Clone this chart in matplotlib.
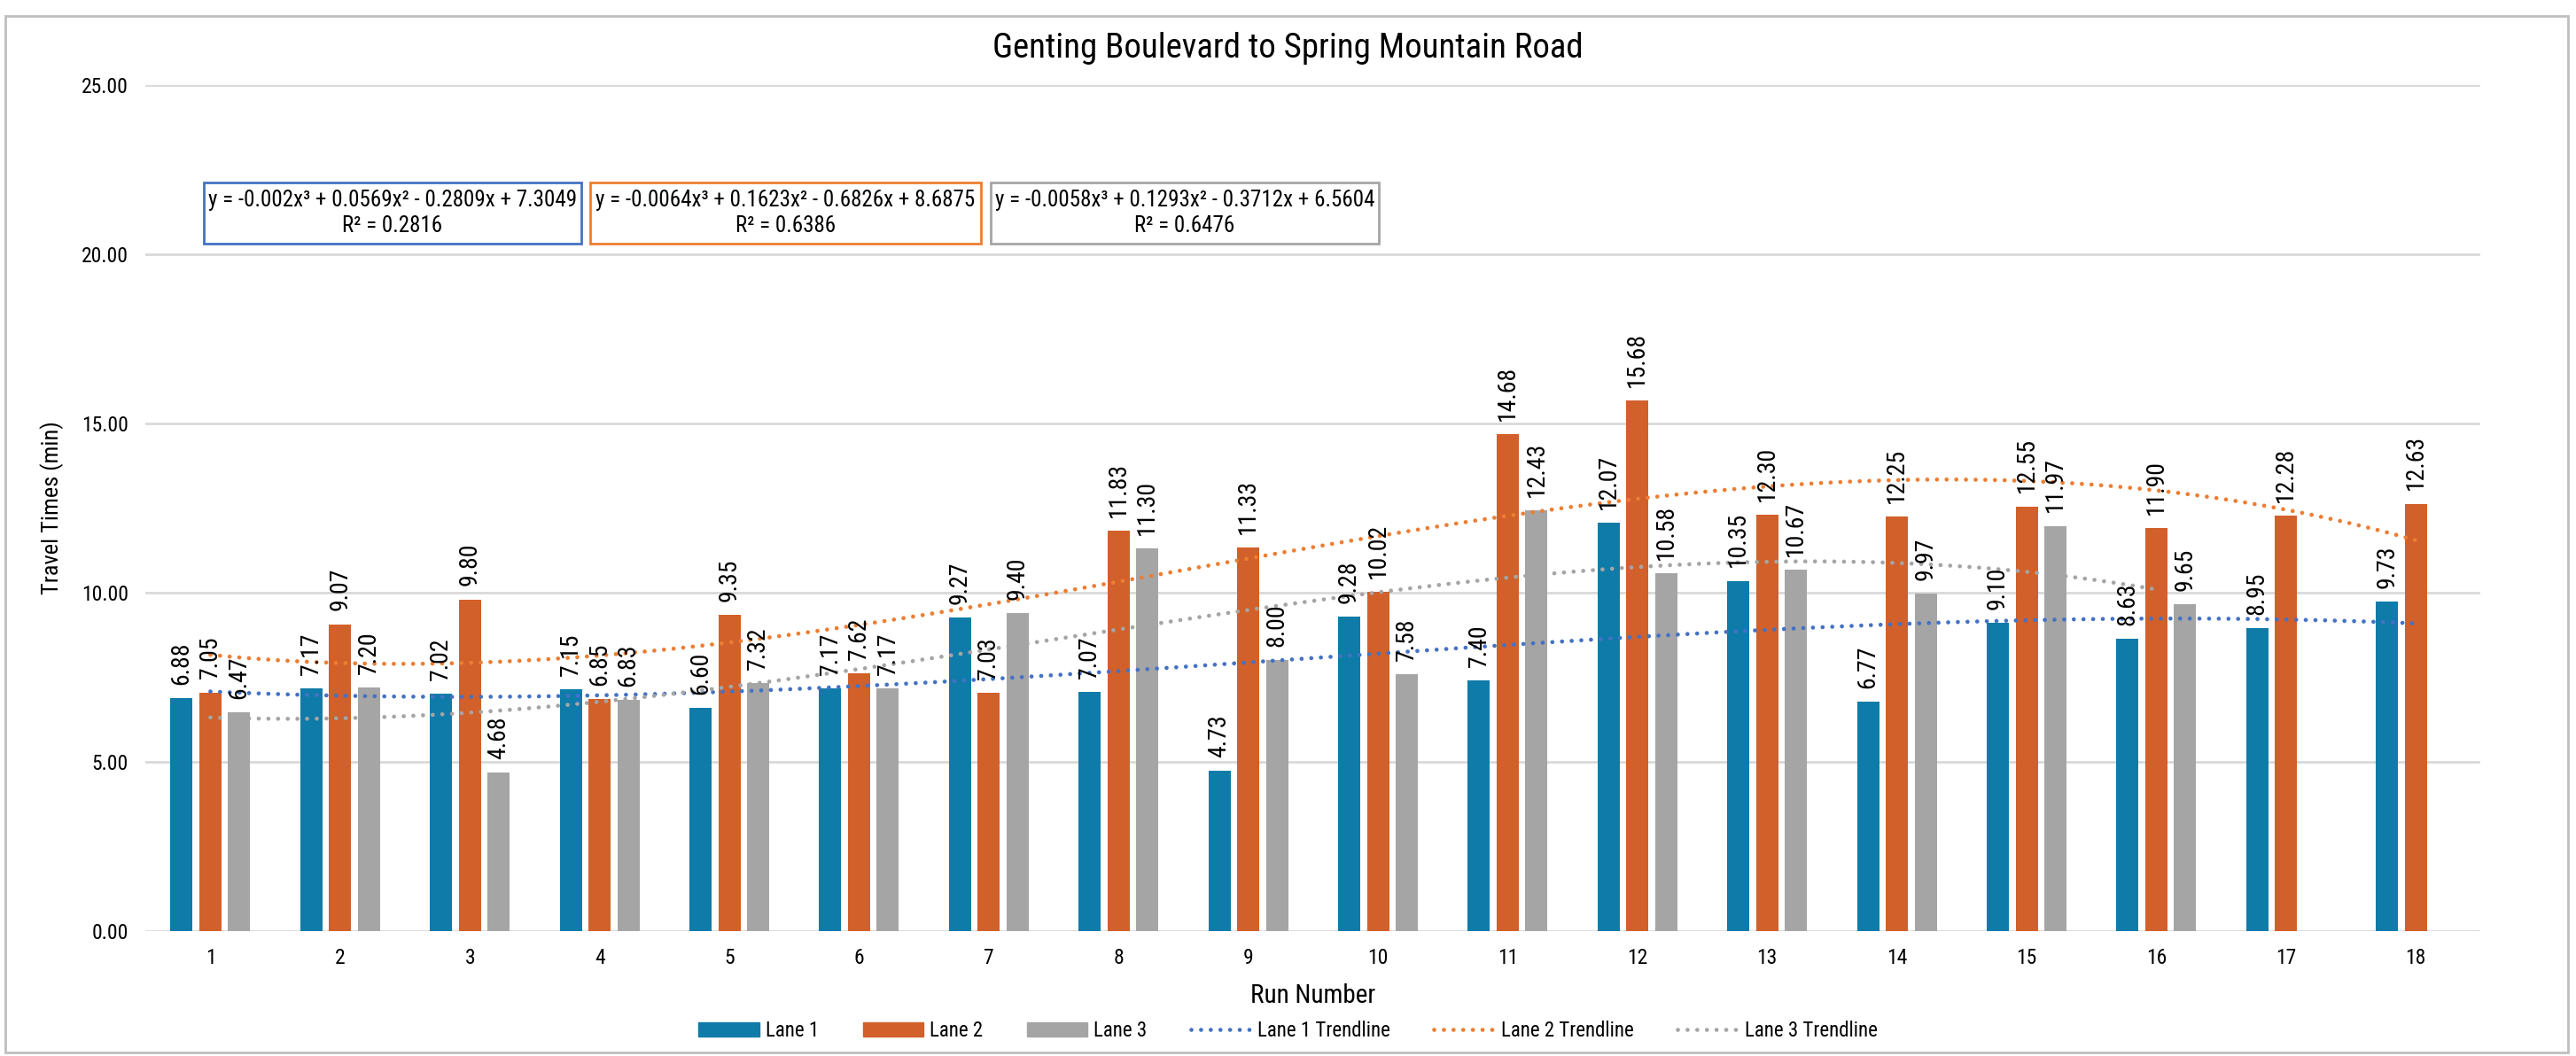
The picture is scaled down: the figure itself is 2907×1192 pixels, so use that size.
import numpy as np
import matplotlib
matplotlib.use("Agg")
import matplotlib.pyplot as plt
from matplotlib.patches import Patch, Rectangle
from matplotlib.lines import Line2D
from matplotlib import font_manager

runs = list(range(1, 19))
lane1 = [6.88, 7.17, 7.02, 7.15, 6.60, 7.17, 9.27, 7.07, 4.73, 9.28, 7.40, 12.07, 10.35, 6.77, 9.10, 8.63, 8.95, 9.73]
lane2 = [7.05, 9.07, 9.80, 6.85, 9.35, 7.62, 7.03, 11.83, 11.33, 10.02, 14.68, 15.68, 12.30, 12.25, 12.55, 11.90, 12.28, 12.63]
lane3 = [6.47, 7.20, 4.68, 6.83, 7.32, 7.17, 9.40, 11.30, 8.00, 7.58, 12.43, 10.58, 10.67, 9.97, 11.97, 9.65]
series_names = ["Lane 1", "Lane 2", "Lane 3"]
equations = [
    "y = -0.002x³ + 0.0569x² - 0.2809x + 7.3049\nR² = 0.2816",
    "y = -0.0064x³ + 0.1623x² - 0.6826x + 8.6875\nR² = 0.6386",
    "y = -0.0058x³ + 0.1293x² - 0.3712x + 6.5604\nR² = 0.6476",
]
yticks = [0, 5, 10, 15, 20, 25]

bar_colors = ["#0F7BA9", "#D2602A", "#A5A5A5"]
trend_colors = ["#4472C4", "#ED7D31", "#A5A5A5"]

avail = {f.name for f in font_manager.fontManager.ttflist}
narrow = [f for f in ["Liberation Sans Narrow", "Roboto Condensed", "Open Sans Condensed"] if f in avail]
NARROW = narrow + ["Liberation Sans", "DejaVu Sans"]
plt.rcParams['font.family'] = NARROW

W, H = 2907, 1192
fig = plt.figure(figsize=(W / 100, H / 100), dpi=100)
ax = fig.add_axes([0.0565, 0.1183, 0.9065, 0.8012])

offsets = [-0.222, 0.0, 0.222]
width = 0.171
DOT = (0, (0.01, 2.3))
for i, data in enumerate([lane1, lane2, lane3]):
    x = np.arange(1, len(data) + 1)
    ax.bar(x + offsets[i], data, width=width, color=bar_colors[i], zorder=2)
    for xi, v in zip(x + offsets[i], data):
        ax.annotate(f"{v:.2f}", (xi, v), xytext=(0, 11), textcoords="offset points",
                    rotation=90, ha="center", va="bottom", fontsize=20,
                    color="#000000", zorder=4)

for i, data in enumerate([lane1, lane2, lane3]):
    x = np.arange(1, len(data) + 1)
    coef = np.polyfit(x, data, 3)
    xs = np.linspace(1, len(data), 300)
    ax.plot(xs, np.polyval(coef, xs), color=trend_colors[i], lw=3.4,
            linestyle=DOT, dash_capstyle="round", zorder=3)

ax.set_xlim(0.5, 18.5)
ax.set_ylim(0, 25)
ax.set_yticks(yticks)
ax.set_yticklabels([f"{t:.2f}" for t in yticks])
ax.set_xticks(runs)
ax.set_xticklabels([str(r) for r in runs])
ax.tick_params(axis="both", length=0, labelsize=17, pad=14)
ax.grid(axis="y", color="#D9D9D9", lw=2)
ax.set_axisbelow(True)
for s in ax.spines.values():
    s.set_visible(False)
ax.set_ylabel("Travel Times (min)", fontsize=19, labelpad=14)
ax.set_xlabel("Run Number", fontsize=21, labelpad=12)

fig.text(0.5, 0.954, "Genting Boulevard to Spring Mountain Road", ha="center", va="center", fontsize=28)

# trendline equation boxes (figure coordinates)
box_x = [230, 666, 1118]
box_w = [426, 441, 438]
for i in range(3):
    x0 = box_x[i] / W
    y0 = 1 - 275 / H
    fig.patches.append(Rectangle((x0, y0), box_w[i] / W, 69 / H, transform=fig.transFigure,
                                 fill=False, edgecolor=trend_colors[i], lw=2))
    fig.text(x0 + box_w[i] / W / 2, y0 + 34.5 / H, equations[i], ha="center", va="center",
             fontsize=18, linespacing=1.25)

# outer border
fig.patches.append(Rectangle((0.002, 0.003), 0.995, 0.982, transform=fig.transFigure,
                             fill=False, edgecolor="#BFBFBF", lw=2))

handles = [Patch(color=bar_colors[i]) for i in range(3)] + [
    Line2D([0], [0], color=trend_colors[i], lw=3.4, linestyle=DOT, dash_capstyle="round")
    for i in range(3)]
labels = series_names + [n + " Trendline" for n in series_names]
fig.legend(handles, labels, loc="center", bbox_to_anchor=(0.5, 0.0235), ncol=6, frameon=False,
           fontsize=16.5, handlelength=3.0, handleheight=0.7, columnspacing=2.15, handletextpad=0.3)

fig.savefig("out.png", dpi=100)
